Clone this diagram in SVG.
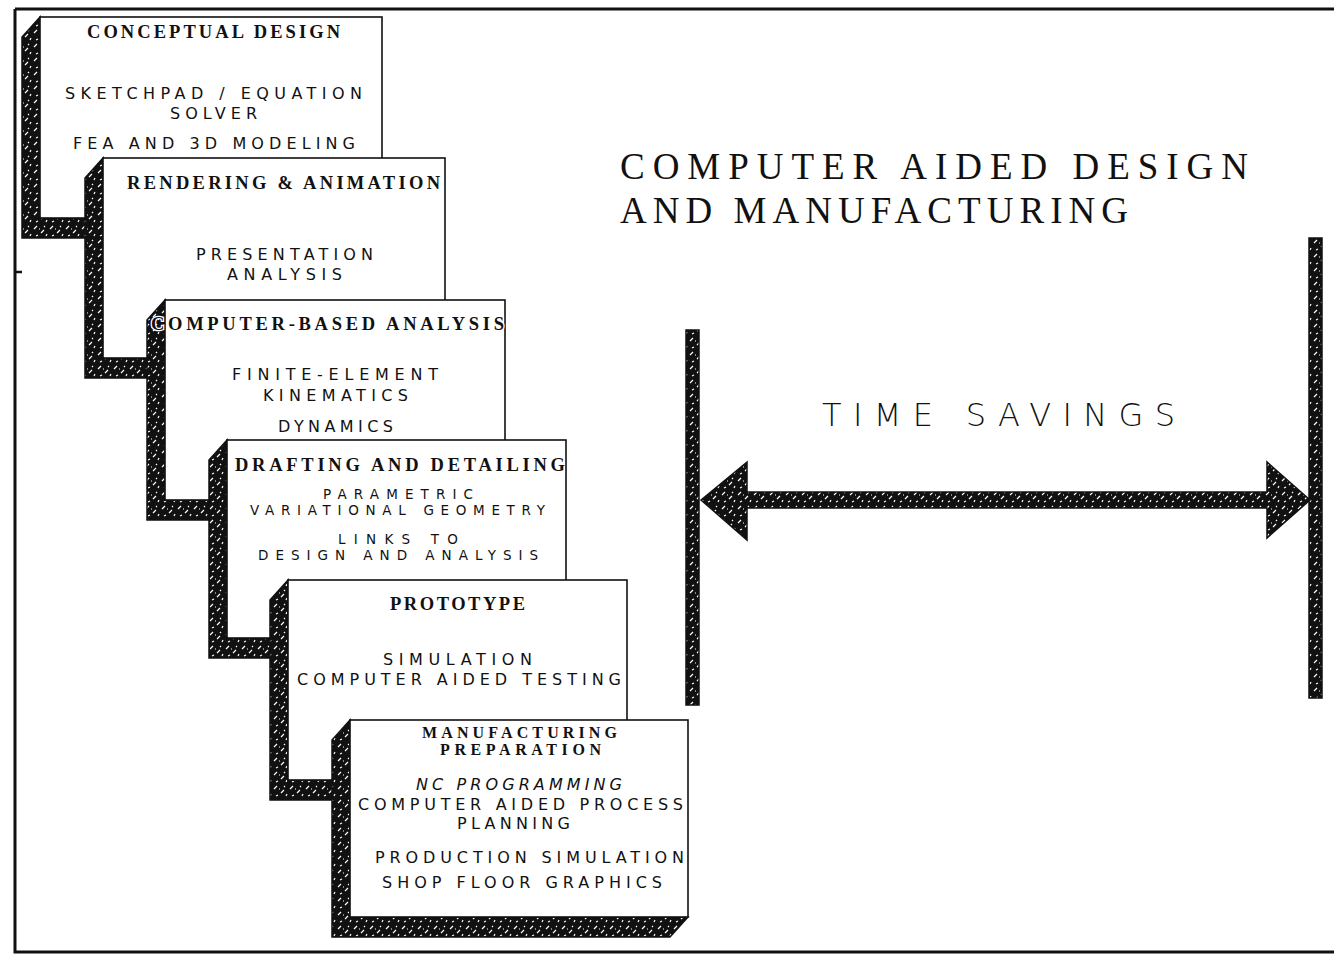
<svg xmlns="http://www.w3.org/2000/svg" width="1334" height="956" viewBox="0 0 1334 956">
<defs>
<pattern id="tex" width="16" height="14" patternUnits="userSpaceOnUse">
<rect width="16" height="14" fill="#111"/>
<path d="M2 5 l3 -3 M9 9 l3 -3 M4 12 l2 -1 M12 2 l1 1 M7 5 l1 0 M14 12 l1 -2" stroke="#fff" stroke-width="1.2" fill="none"/>
</pattern>
<style>
.frame{stroke:#111;stroke-width:3;fill:none}
.shadow{fill:url(#tex);stroke:#111;stroke-width:1.5}
.box{fill:#fff;stroke:#111;stroke-width:1.6}
.hd{font-family:"Liberation Serif","Times New Roman",serif;font-weight:bold;font-size:18.5px;fill:#111}
.hd2{font-family:"Liberation Serif","Times New Roman",serif;font-weight:bold;font-size:16px;fill:#111}
.bd{font-family:"DejaVu Sans","Liberation Sans",Arial,sans-serif;font-size:16px;fill:#111}
.bds{font-family:"DejaVu Sans","Liberation Sans",Arial,sans-serif;font-size:13.5px;fill:#111}
.title{font-family:"Liberation Serif","Times New Roman",serif;font-size:37px;fill:#111}
.ts{font-family:"DejaVu Sans","Liberation Sans",Arial,sans-serif;font-weight:200;font-size:32px;fill:#111}
.bar{fill:url(#tex);stroke:#111;stroke-width:1.5}
.halo{paint-order:stroke;stroke:#fff;stroke-width:2.5px}
</style>
</defs>
<rect width="1334" height="956" fill="#fff"/>
<g id="frame">
<path class="frame" d="M15 9 H1334 M15 9 V952 H1334"/>
<path d="M15 272 H22" stroke="#111" stroke-width="2.5"/>
</g>
<g id="node-conceptual">
<polygon class="shadow" points="40,17 22,37 22,238 324,238 342,218 40,218"/>
<rect class="box" x="40" y="17" width="342" height="201"/>
<text class="hd" x="87" y="38" textLength="253" lengthAdjust="spacing">CONCEPTUAL DESIGN</text>
<text class="bd" x="65" y="99" textLength="297" lengthAdjust="spacing">SKETCHPAD / EQUATION</text>
<text class="bd" x="170" y="119" textLength="87" lengthAdjust="spacing">SOLVER</text>
<text class="bd" x="73" y="149" textLength="282" lengthAdjust="spacing">FEA AND 3D MODELING</text>
</g>
<g id="node-rendering">
<polygon class="shadow" points="103,158 85,178 85,378 427,378 445,358 103,358"/>
<rect class="box" x="103" y="158" width="342" height="200"/>
<text class="hd" x="127" y="189" textLength="313" lengthAdjust="spacing">RENDERING &amp; ANIMATION</text>
<text class="bd" x="196" y="260" textLength="177" lengthAdjust="spacing">PRESENTATION</text>
<text class="bd" x="227" y="280" textLength="115" lengthAdjust="spacing">ANALYSIS</text>
</g>
<g id="node-analysis">
<polygon class="shadow" points="165,300 147,320 147,520 487,520 505,500 165,500"/>
<rect class="box" x="165" y="300" width="340" height="200"/>
<text class="hd halo" x="151" y="330" textLength="353" lengthAdjust="spacing">COMPUTER-BASED ANALYSIS</text>
<text class="bd" x="232" y="380" textLength="206" lengthAdjust="spacing">FINITE-ELEMENT</text>
<text class="bd" x="263" y="401" textLength="145" lengthAdjust="spacing">KINEMATICS</text>
<text class="bd" x="278" y="432" textLength="115" lengthAdjust="spacing">DYNAMICS</text>
</g>
<g id="node-drafting">
<polygon class="shadow" points="227,440 209,460 209,658 548,658 566,638 227,638"/>
<rect class="box" x="227" y="440" width="339" height="198"/>
<text class="hd" x="235" y="471" textLength="330" lengthAdjust="spacing">DRAFTING AND DETAILING</text>
<text class="bds" x="323" y="499" textLength="150" lengthAdjust="spacing">PARAMETRIC</text>
<text class="bds" x="250" y="515" textLength="295" lengthAdjust="spacing">VARIATIONAL GEOMETRY</text>
<text class="bds" x="338" y="544" textLength="120" lengthAdjust="spacing">LINKS TO</text>
<text class="bds" x="258" y="560" textLength="280" lengthAdjust="spacing">DESIGN AND ANALYSIS</text>
</g>
<g id="node-prototype">
<polygon class="shadow" points="288,580 270,600 270,800 609,800 627,780 288,780"/>
<rect class="box" x="288" y="580" width="339" height="200"/>
<text class="hd" x="390" y="610" textLength="135" lengthAdjust="spacing">PROTOTYPE</text>
<text class="bd" x="383" y="665" textLength="149" lengthAdjust="spacing">SIMULATION</text>
<text class="bd" x="297" y="685" textLength="324" lengthAdjust="spacing">COMPUTER AIDED TESTING</text>
</g>
<g id="node-manufacturing">
<polygon class="shadow" points="350,720 332,740 332,937 670,937 688,917 350,917"/>
<rect class="box" x="350" y="720" width="338" height="197"/>
<text class="hd2" x="422" y="738" textLength="195" lengthAdjust="spacing">MANUFACTURING</text>
<text class="hd2" x="440" y="755" textLength="161" lengthAdjust="spacing">PREPARATION</text>
<text class="bd" x="416" y="790" textLength="206" lengthAdjust="spacing" font-style="italic">NC PROGRAMMING</text>
<text class="bd" x="358" y="810" textLength="325" lengthAdjust="spacing">COMPUTER AIDED PROCESS</text>
<text class="bd" x="457" y="829" textLength="113" lengthAdjust="spacing">PLANNING</text>
<text class="bd" x="375" y="863" textLength="309" lengthAdjust="spacing">PRODUCTION SIMULATION</text>
<text class="bd" x="382" y="888" textLength="280" lengthAdjust="spacing">SHOP FLOOR GRAPHICS</text>
</g>
<g id="title">
<text class="title" x="620" y="179" textLength="628" lengthAdjust="spacing">COMPUTER AIDED DESIGN</text>
<text class="title" x="620" y="223" textLength="508" lengthAdjust="spacing">AND MANUFACTURING</text>
</g>
<g id="connectors">
<rect class="bar" x="686" y="330" width="13" height="375"/>
<rect class="bar" x="1309" y="238" width="13" height="460"/>
<polygon class="bar" points="701,500 747,462 747,492 1267,492 1267,462 1310,500 1267,538 1267,508 747,508 747,540"/>
<text class="ts" x="822" y="426" textLength="353" lengthAdjust="spacing">TIME SAVINGS</text>
</g>
</svg>
